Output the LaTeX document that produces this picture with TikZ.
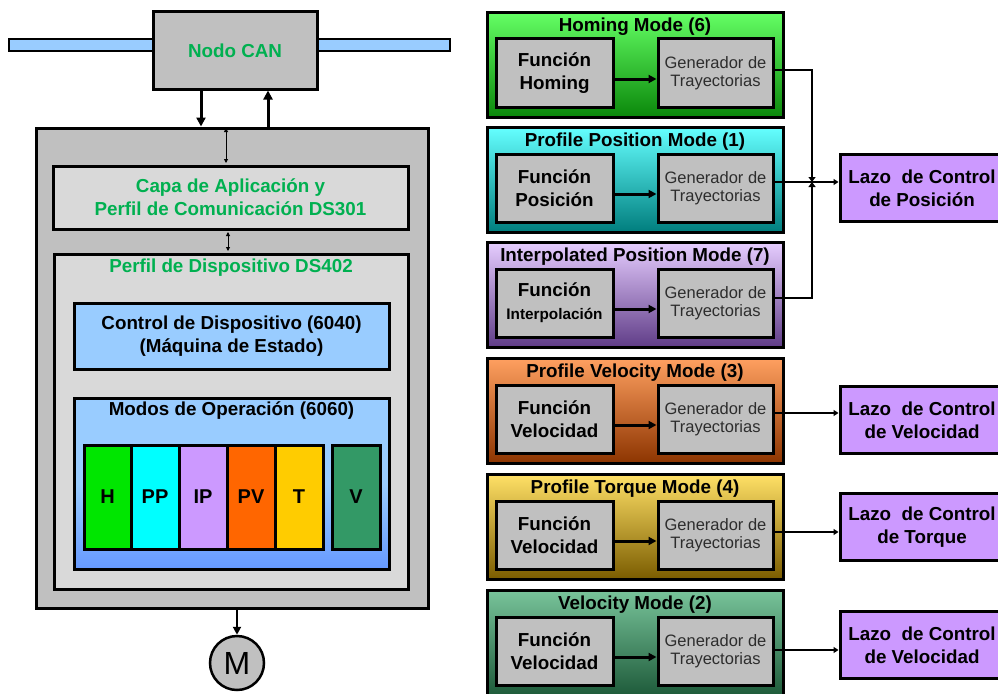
\documentclass[tikz,border=0pt]{standalone}
\usepackage{fontspec}
\setmainfont{Liberation Sans}
\usetikzlibrary{arrows.meta,calc}
\definecolor{cgreen}{RGB}{0,176,80}
\definecolor{cgray}{RGB}{192,192,192}
\definecolor{clight}{RGB}{217,217,217}
\definecolor{cblue}{RGB}{153,204,255}
\definecolor{cblue2}{RGB}{102,153,255}
\definecolor{cpurple}{RGB}{204,153,255}
\definecolor{bH}{RGB}{0,230,0}
\definecolor{bPP}{RGB}{0,255,255}
\definecolor{bIP}{RGB}{204,153,255}
\definecolor{bPV}{RGB}{255,102,0}
\definecolor{bT}{RGB}{255,204,0}
\definecolor{bV}{RGB}{51,153,102}
\definecolor{homT}{RGB}{100,255,100}
\definecolor{homB}{RGB}{10,135,10}
\definecolor{ppT}{RGB}{100,255,255}
\definecolor{ppB}{RGB}{0,125,125}
\definecolor{ipT}{RGB}{230,205,255}
\definecolor{ipB}{RGB}{95,60,135}
\definecolor{pvT}{RGB}{255,160,96}
\definecolor{pvB}{RGB}{140,52,0}
\definecolor{ptT}{RGB}{255,224,102}
\definecolor{ptB}{RGB}{122,92,0}
\definecolor{vmT}{RGB}{120,196,154}
\definecolor{vmB}{RGB}{30,90,58}
\definecolor{gentext}{RGB}{45,45,45}
\newcommand\myBig{\fontsize{18.8}{23}\selectfont\bfseries}
\newcommand\myBar{\fontsize{20}{22}\selectfont\bfseries}
\newcommand\myGen{\fontsize{16.5}{17.5}\selectfont}
\newcommand\mySmall{\fontsize{15.3}{17}\selectfont\bfseries}
\tikzset{
  box/.style={draw=black, line width=3pt, inner sep=0pt},
  grayb/.style={box, fill=cgray},
  bigtip/.style={-{Triangle[length=9pt,width=9pt]}, line width=3pt},
  medtip/.style={-{Triangle[length=8pt,width=8pt]}, line width=3pt},
  jtip/.style={-{Triangle[length=5pt,width=7pt]}, line width=2.6pt},
  smalltip/.style={-{Triangle[length=5pt,width=6pt]}, line width=2.2pt},
  dtip/.style={{Triangle[length=4pt,width=4pt]}-{Triangle[length=4pt,width=4pt]}, line width=0.9pt, shorten <=1.5pt, shorten >=1.5pt},
  barb/.style={box, minimum width=48pt, minimum height=104pt, font=\myBar},
  lazo/.style={box, fill=cpurple, minimum width=164pt, minimum height=67pt, font=\myBig, align=center}
}
\newcommand\modeblock[6]{%
  \node[box, top color=#4, bottom color=#5, minimum width=296pt, minimum height=105pt] (#1) at (635,#2+53) {};
  \node[font=\myBig] (#1t) at (635,#2+15) {#3};
  \node[grayb, minimum width=117pt, minimum height=68pt, font=\myBig, align=center] (#1f) at (554.5,#2+61) {#6};
  \node[grayb, minimum width=115pt, minimum height=68pt, font=\myGen, align=center, text=gentext] (#1g) at (715.5,#2+61) {Generador de\\Trayectorias};
  \coordinate (#1a) at ([yshift=-6pt]#1f.east);
  \draw[medtip] (#1a) -- (#1a -| #1g.west);
}
\begin{document}
\begin{tikzpicture}[x=1pt,y=-1pt]
\useasboundingbox (0,0) rectangle (998,693);
\clip (0,0) rectangle (998,693);
% ---------- left side ----------
\node[draw=black, line width=2.5pt, fill=cblue, minimum width=441pt, minimum height=12pt, inner sep=0pt] (bus) at (229.5,45) {};
\node[grayb, minimum width=164pt, minimum height=77pt, text=cgreen, font=\myBig] (can) at (235,50.5) {Nodo CAN};
\node[grayb, minimum width=392pt, minimum height=480pt] (outer) at (232,368) {};
\coordinate (xd) at (201,0);
\coordinate (xu) at (268,0);
\draw[bigtip] (can.south -| xd) -- (outer.north -| xd);
\draw[bigtip] (outer.north -| xu) -- (can.south -| xu);
\node[box, fill=clight, minimum width=355pt, minimum height=63pt, text=cgreen, font=\myBig, align=center] (capa) at (230.5,197.5) {Capa de Aplicación y\\Perfil de Comunicación DS301};
\node[box, fill=clight, minimum width=354pt, minimum height=335pt] (perfil) at (231,421.5) {};
\coordinate (xa1) at (226,0);
\coordinate (xa2) at (228,0);
\draw[dtip] (outer.north -| xa1) -- (capa.north -| xa1);
\draw[dtip] (capa.south -| xa2) -- (perfil.north -| xa2);
\node[text=cgreen, font=\myBig] (perfilt) at (231,268) {Perfil de Dispositivo DS402};
\node[box, fill=cblue, minimum width=315pt, minimum height=66pt, font=\myBig, align=center] (ctrl) at (231.5,336) {Control de Dispositivo (6040)\\(Máquina de Estado)};
\node[box, top color=cblue, bottom color=cblue2, middle color=cblue, minimum width=315pt, minimum height=171pt] (modos) at (231.5,483.5) {};
\node[font=\myBig] (modost) at (231.5,411) {Modos de Operación (6060)};
\node[barb, fill=bH, minimum width=47pt] (bh) at (107.5,497) {H};
\node[barb, fill=bPP] (bpp) at (155,497) {PP};
\node[barb, fill=bIP] (bip) at (203,497) {IP};
\node[barb, fill=bPV] (bpv) at (251,497) {PV};
\node[barb, fill=bT] (bt) at (299,497) {T};
\node[barb, fill=bV] (bv) at (356,497) {V};
\node[circle, draw=black, line width=2.5pt, fill=cgray, minimum size=54pt, inner sep=0pt, font=\fontsize{32}{32}\selectfont] (m) at (237,663) {M};
\draw[medtip, line width=2.5pt] (m |- outer.south) -- (m.north);
% ---------- right side ----------
\modeblock{hm}{12}{Homing Mode (6)}{homT}{homB}{Función\\Homing}
\modeblock{pp}{127}{Profile Position Mode (1)}{ppT}{ppB}{Función\\Posición}
\modeblock{ip}{242}{Interpolated Position Mode (7)}{ipT}{ipB}{Función\\{\mySmall Interpolación}}
\modeblock{pv}{358}{Profile Velocity Mode (3)}{pvT}{pvB}{Función\\Velocidad}
\modeblock{pt}{474}{Profile Torque Mode (4)}{ptT}{ptB}{Función\\Velocidad}
\modeblock{vm}{590}{Velocity Mode (2)}{vmT}{vmB}{Función\\Velocidad}
\node[lazo] (lp) at (922,188) {Lazo\ \ de Control\\de Posición};
\node[lazo] (lv) at (922,420) {Lazo\ \ de Control\\de Velocidad};
\node[lazo] (lt) at (922,527) {Lazo\ \ de Control\\de Torque};
\node[lazo] (lv2) at (922,645) {Lazo\ \ de Control\\de Velocidad};
\coordinate (jx) at (812,0);
\coordinate (ho) at ([yshift=3pt]hmg.east);
\coordinate (po) at ([yshift=6pt]ppg.east);
\coordinate (io) at ([yshift=5pt]ipg.east);
\coordinate (vo) at ([yshift=6pt]pvg.east);
\coordinate (to) at ([yshift=3pt]ptg.east);
\coordinate (wo) at ([yshift=1pt]vmg.east);
\draw[jtip] (ho) -| (jx |- po);
\draw[jtip] (io) -| (jx |- po);
\draw[smalltip] (po) -- (po -| lp.west);
\draw[smalltip] (vo) -- (vo -| lv.west);
\draw[smalltip] (to) -- (to -| lt.west);
\draw[smalltip] (wo) -- (wo -| lv2.west);
\end{tikzpicture}
\end{document}
